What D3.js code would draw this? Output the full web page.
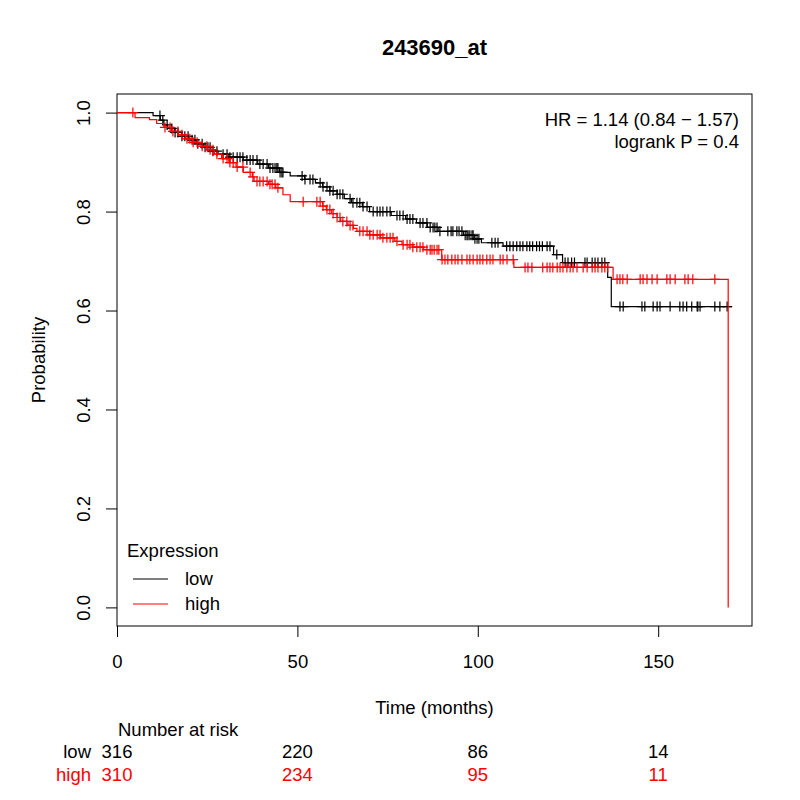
<!DOCTYPE html>
<html>
<head>
<meta charset="utf-8">
<script src="https://cdn.jsdelivr.net/npm/d3@7"></script>
<style>
  body { margin: 0; background: #fff; }
  text { font-family: "Liberation Sans", Arial, sans-serif; }
</style>
</head>
<body>
<div id="chart"></div>
<script>
// step points [time, survival after the drop]
var lowSteps = [
    [0, 1], [10, 0.994], [12, 0.985], [13, 0.975], [14, 0.968], [16, 0.96], [18, 0.952],
    [20, 0.945], [22, 0.937], [24, 0.93], [26, 0.922], [28, 0.916], [31, 0.91], [35, 0.904],
    [39, 0.896], [42, 0.888], [45, 0.879], [48, 0.872], [52, 0.865], [55, 0.858], [57, 0.85],
    [59, 0.842], [61, 0.835], [63, 0.826], [65, 0.818], [68, 0.81], [70, 0.8], [76, 0.792],
    [80, 0.785], [83, 0.777], [86, 0.768], [89, 0.76], [96, 0.752], [99, 0.745], [101, 0.737],
    [107, 0.73], [121, 0.713], [123.5, 0.697], [136, 0.667], [137, 0.608], [170.5, 0.608]
];
var highSteps = [
    [0, 1], [5, 0.99], [9, 0.986], [11, 0.978], [13, 0.97], [15, 0.962], [17, 0.955],
    [19, 0.947], [21, 0.94], [23, 0.932], [25, 0.925], [27, 0.916], [29, 0.907], [31, 0.899],
    [33, 0.89], [35, 0.879], [37.5, 0.87], [38, 0.861], [42, 0.855], [44, 0.848], [46, 0.834],
    [48, 0.82], [57, 0.811], [58, 0.804], [59.5, 0.796], [61, 0.788], [62, 0.78], [64, 0.772],
    [65.5, 0.766], [66.5, 0.76], [70, 0.753], [73, 0.747], [77, 0.74], [79, 0.733], [82, 0.728],
    [85, 0.723], [90, 0.703], [110, 0.687], [137.5, 0.663], [169.4, 0]
];

// censoring times
var lowCensor = [
    11.9, 12.7, 13.9, 15.2, 16.1, 16.9, 18, 18.8, 19.7, 20.8, 21.6, 22.4, 23.6, 24.4, 25.2,
    25.8, 26.6, 27.7, 29.4, 30.5, 31.3, 32.2, 33.3, 34.1, 34.9, 36, 36.9, 37.7, 38.8, 39.6,
    40.5, 41.6, 42.4, 43.2, 43.8, 44.3, 44.6, 45.2, 45.7, 46, 51.3, 52.1, 53.5, 54.3, 56.3,
    57.1, 58.2, 59, 59.9, 61, 61.8, 62.6, 64.6, 65.4, 66.5, 67.3, 68.2, 69.3, 71, 72.1, 72.9,
    73.7, 74.8, 75.7, 77.6, 78.4, 79.3, 80.4, 81.2, 82, 84, 84.8, 85.9, 86.8, 87.6, 88.1,
    88.7, 89.5, 91.7, 92.6, 93.1, 94.2, 94.8, 95.6, 96.5, 97, 97.3, 97.8, 98.4, 98.7, 99.2,
    99.8, 100.3, 103.9, 104.8, 105.6, 108, 108.9, 109.8, 110.8, 111.7, 112.5, 113.6, 114.4,
    115.2, 116.3, 117.1, 117.9, 119.2, 120, 121.9, 124.2, 125, 126, 126.8, 129.7, 130.3,
    131.7, 132.5, 133.3, 134.4, 135.2, 139.4, 140.3, 145.5, 146.3, 148.6, 149.7, 150.5,
    153.3, 156, 156.9, 157.9, 159.3, 160.8, 161, 161.6, 165.7, 167.1, 169.1
];
var highCensor = [
    4.4, 13.3, 14.7, 15.5, 16.9, 18, 19.4, 20.2, 21.1, 22.2, 23.6, 24.9, 25.8, 26.6, 27.7,
    29.4, 30.5, 31.3, 32.2, 33.3, 34.9, 36.9, 37.7, 38.8, 39.6, 40.5, 41.6, 42.4, 43, 43.8,
    44.6, 51.6, 55.4, 56.3, 57.1, 58.2, 59, 59.9, 61, 61.8, 62.6, 63.7, 64.6, 65.4, 67.3,
    68.2, 69.3, 70.1, 71, 72.1, 72.9, 73.7, 74.8, 75.7, 76.5, 77.6, 79.3, 80.4, 81.2, 82,
    83.1, 84, 84.8, 85.9, 86.8, 87.3, 87.9, 88.7, 89.2, 90.1, 90.9, 91.7, 92.8, 93.7, 94.5,
    95.6, 97, 97.8, 98.7, 99.8, 100.6, 101.4, 102.5, 103.4, 104.2, 106.2, 107, 108.1, 109.8,
    113.1, 113.9, 115, 118, 119.2, 120, 120.8, 122, 122.8, 123.6, 124.7, 125.6, 126.4, 127.5,
    129.2, 130.3, 131.7, 132.5, 133.3, 134.4, 135.2, 136, 138.6, 139.4, 140.2, 141.4, 145,
    145.8, 146.9, 148.3, 149.7, 152.4, 153.3, 154.7, 157.4, 158.3, 159.6, 165.7
];

var xTicks = [0, 50, 100, 150];
var yTicks = [0, 0.2, 0.4, 0.6, 0.8, 1.0];
var groups = ["low", "high"];
var groupColors = ["#000000", "#ff0000"];
var atRiskLow = [316, 220, 86, 14];
var atRiskHigh = [310, 234, 95, 11];
var statLines = ["HR = 1.14 (0.84 \u2212 1.57)", "logrank P = 0.4"];

var width = 800, height = 800;
var box = {left: 117, right: 752, top: 94, bottom: 626};
var fs = 18.5;

var x = d3.scaleLinear().domain([0, 176]).range([box.left, box.right]);
var y = d3.scaleLinear().domain([-0.0376, 1.0376]).range([box.bottom, box.top]);

var svg = d3.select("#chart").append("svg")
    .attr("width", width)
    .attr("height", height);

svg.append("rect")
    .attr("width", width).attr("height", height)
    .attr("fill", "#fff");

// plot frame
svg.append("rect")
    .attr("x", box.left).attr("y", box.top)
    .attr("width", box.right - box.left).attr("height", box.bottom - box.top)
    .attr("fill", "none").attr("stroke", "#000").attr("stroke-width", 1);

// axes
var xAxis = svg.append("g")
    .attr("transform", "translate(0," + box.bottom + ")")
    .call(d3.axisBottom(x).tickValues(xTicks).tickSize(11).tickFormat(d3.format("d")));
xAxis.select(".domain").remove();
xAxis.selectAll("text")
    .attr("font-size", fs).attr("fill", "#000")
    .attr("dy", null)
    .attr("y", 42);

var yAxis = svg.append("g")
    .attr("transform", "translate(" + box.left + ",0)")
    .call(d3.axisLeft(y).tickValues(yTicks).tickSize(11).tickFormat(d3.format(".1f")));
yAxis.select(".domain").remove();
yAxis.selectAll("text")
    .attr("font-size", fs).attr("fill", "#000")
    .attr("text-anchor", "middle")
    .attr("dy", null)
    .attr("x", 0)
    .attr("y", 0)
    .attr("transform", "translate(-27,0) rotate(-90)");

// curves
var line = d3.line()
    .x(function(d) { return x(d[0]); })
    .y(function(d) { return y(d[1]); })
    .curve(d3.curveStepAfter);

function survAt(steps, t) {
    var s = 1;
    steps.forEach(function(d) { if (d[0] <= t) s = d[1]; });
    return s;
}

[[lowSteps, lowCensor], [highSteps, highCensor]].forEach(function(g, i) {
    svg.append("path")
        .datum(g[0])
        .attr("d", line)
        .attr("fill", "none")
        .attr("stroke", groupColors[i])
        .attr("stroke-width", 1.2);

    svg.append("g").selectAll("path")
        .data(g[1])
        .enter()
        .append("path")
        .attr("d", function(t) {
            var cx = x(t), cy = y(survAt(g[0], t));
            return "M" + (cx - 5) + "," + cy + "H" + (cx + 5) +
                   "M" + cx + "," + (cy - 5) + "V" + (cy + 5);
        })
        .attr("stroke", groupColors[i])
        .attr("stroke-width", 1.2);
});

// title
svg.append("text")
    .attr("x", (box.left + box.right) / 2).attr("y", 55)
    .attr("text-anchor", "middle")
    .attr("font-size", 22).attr("font-weight", "bold")
    .text("243690_at");

// statistics
svg.selectAll(".stat")
    .data(statLines)
    .enter()
    .append("text")
    .attr("x", 739)
    .attr("y", function(d, i) { return 126 + i * 22; })
    .attr("text-anchor", "end")
    .attr("font-size", fs)
    .text(function(d) { return d; });

// legend
svg.append("text")
    .attr("x", 127).attr("y", 557)
    .attr("font-size", fs)
    .text("Expression");

groups.forEach(function(name, i) {
    var ly = 579 + i * 25;
    svg.append("line")
        .attr("x1", 133).attr("x2", 168)
        .attr("y1", ly).attr("y2", ly)
        .attr("stroke", groupColors[i]).attr("stroke-width", 1.2);
    svg.append("text")
        .attr("x", 185).attr("y", ly + 6)
        .attr("font-size", fs)
        .text(name);
});

// axis titles
svg.append("text")
    .attr("x", (box.left + box.right) / 2).attr("y", 714)
    .attr("text-anchor", "middle")
    .attr("font-size", fs)
    .text("Time (months)");

svg.append("text")
    .attr("transform", "translate(45," + ((box.top + box.bottom) / 2) + ") rotate(-90)")
    .attr("text-anchor", "middle")
    .attr("font-size", fs)
    .text("Probability");

// number at risk table
svg.append("text")
    .attr("x", 118).attr("y", 736)
    .attr("font-size", fs)
    .text("Number at risk");

[atRiskLow, atRiskHigh].forEach(function(row, i) {
    var ry = 758 + i * 22.5;
    svg.append("text")
        .attr("x", 91).attr("y", ry)
        .attr("text-anchor", "end")
        .attr("font-size", fs)
        .attr("fill", groupColors[i])
        .text(groups[i]);
    svg.append("g").selectAll("text")
        .data(row)
        .enter()
        .append("text")
        .attr("x", function(d, j) { return x(xTicks[j]); })
        .attr("y", ry)
        .attr("text-anchor", "middle")
        .attr("font-size", fs)
        .attr("fill", groupColors[i])
        .text(function(d) { return d; });
});
</script>
</body>
</html>
